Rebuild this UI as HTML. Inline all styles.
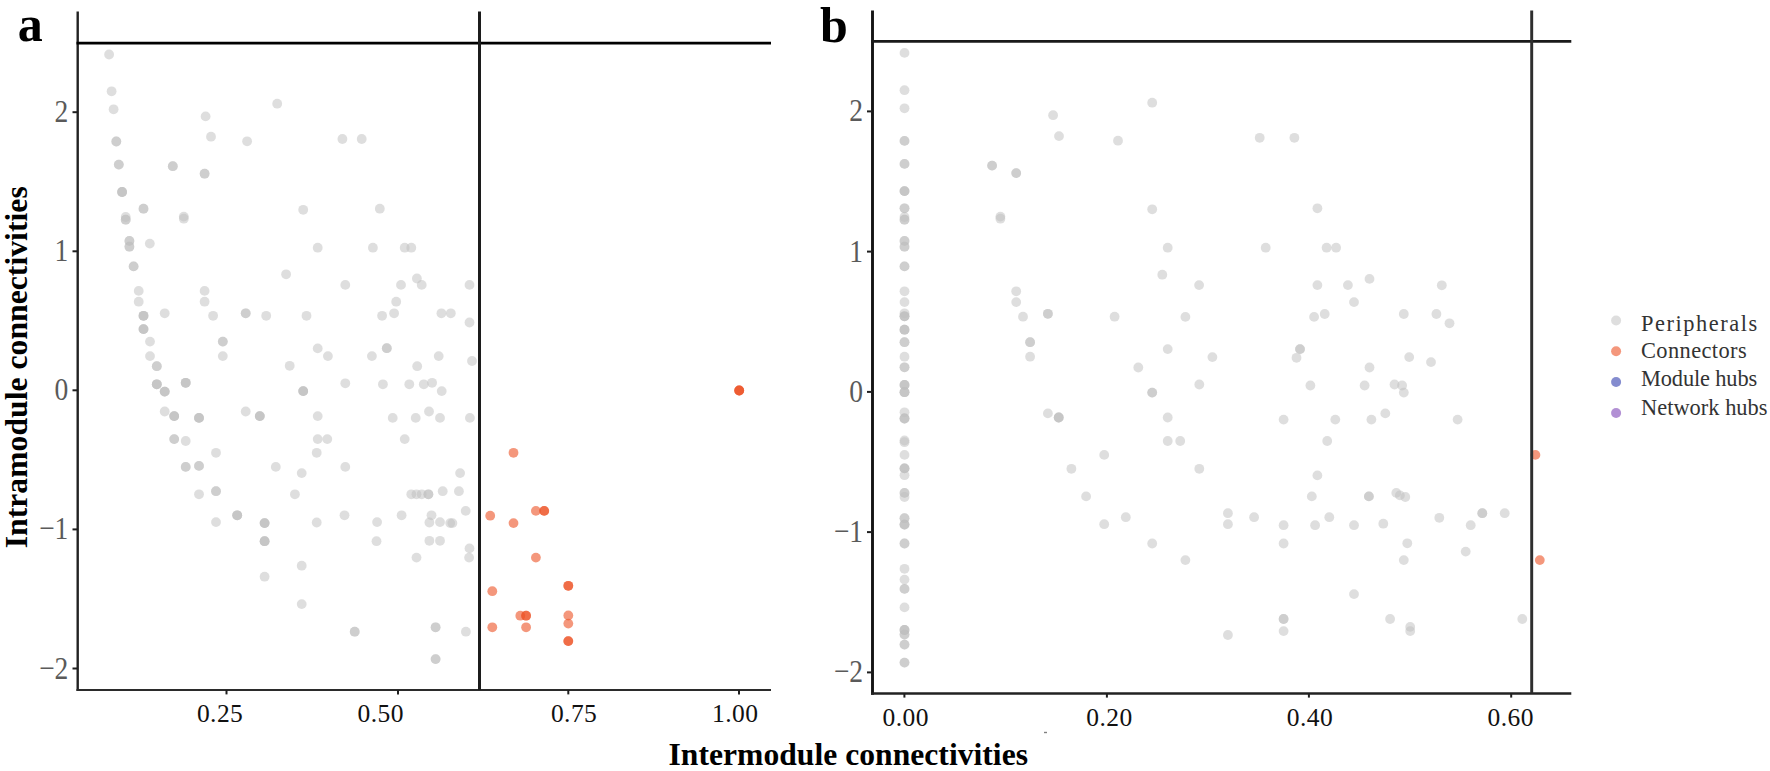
<!DOCTYPE html>
<html><head><meta charset="utf-8"><title>Zi-Pi plot</title>
<style>
html,body{margin:0;padding:0;background:#fff;}
svg{display:block}
.ax{stroke:#1f1f1f;stroke-width:2.3;fill:none;stroke-linecap:butt}
.tk{stroke:#1f1f1f;stroke-width:2;fill:none}
.xt{font-family:"Liberation Serif",serif;font-size:25.5px;fill:#111;text-anchor:middle;letter-spacing:.45px}
.yt{font-family:"Liberation Serif",serif;font-size:32.4px;fill:#5a5a5a;text-anchor:end}
.ttl{font-family:"Liberation Serif",serif;font-weight:bold;font-size:31.6px;fill:#000}
.tag{font-family:"Liberation Serif",serif;font-weight:bold;font-size:50px;fill:#000}
.lg{font-family:"Liberation Serif",serif;font-size:22.4px;fill:#333}
.g{fill:#bebebe;fill-opacity:.5}
.r{fill:#ec5225;fill-opacity:.6}
</style></head><body>
<svg width="1770" height="771" viewBox="0 0 1770 771">
<rect width="1770" height="771" fill="#ffffff"/>

<g id="pa"><circle class="g" cx="109.1" cy="54.5" r="4.9"/>
<circle class="g" cx="111.6" cy="91.3" r="4.9"/>
<circle class="g" cx="113.6" cy="109.3" r="4.9"/>
<circle class="g" cx="116.3" cy="141.5" r="4.9"/>
<circle class="g" cx="116.3" cy="141.5" r="4.9"/>
<circle class="g" cx="118.8" cy="164.6" r="4.9"/>
<circle class="g" cx="118.8" cy="164.6" r="4.9"/>
<circle class="g" cx="122.1" cy="192.0" r="4.9"/>
<circle class="g" cx="122.1" cy="192.0" r="4.9"/>
<circle class="g" cx="122.1" cy="192.0" r="4.9"/>
<circle class="g" cx="172.8" cy="166.2" r="4.9"/>
<circle class="g" cx="172.8" cy="166.2" r="4.9"/>
<circle class="g" cx="204.6" cy="173.7" r="4.9"/>
<circle class="g" cx="204.6" cy="173.7" r="4.9"/>
<circle class="g" cx="205.6" cy="116.4" r="4.9"/>
<circle class="g" cx="211.0" cy="136.7" r="4.9"/>
<circle class="g" cx="247.1" cy="141.3" r="4.9"/>
<circle class="g" cx="277.2" cy="103.7" r="4.9"/>
<circle class="g" cx="342.4" cy="139.0" r="4.9"/>
<circle class="g" cx="361.7" cy="139.0" r="4.9"/>
<circle class="g" cx="143.5" cy="208.7" r="4.9"/>
<circle class="g" cx="143.5" cy="208.7" r="4.9"/>
<circle class="g" cx="125.7" cy="217.0" r="4.9"/>
<circle class="g" cx="125.7" cy="219.7" r="4.9"/>
<circle class="g" cx="125.7" cy="219.7" r="4.9"/>
<circle class="g" cx="183.8" cy="216.6" r="4.9"/>
<circle class="g" cx="183.8" cy="218.7" r="4.9"/>
<circle class="g" cx="303.2" cy="209.8" r="4.9"/>
<circle class="g" cx="129.4" cy="240.9" r="4.9"/>
<circle class="g" cx="129.4" cy="240.9" r="4.9"/>
<circle class="g" cx="129.4" cy="246.7" r="4.9"/>
<circle class="g" cx="129.4" cy="246.7" r="4.9"/>
<circle class="g" cx="149.8" cy="243.6" r="4.9"/>
<circle class="g" cx="317.7" cy="247.7" r="4.9"/>
<circle class="g" cx="133.6" cy="266.4" r="4.9"/>
<circle class="g" cx="133.6" cy="266.4" r="4.9"/>
<circle class="g" cx="286.1" cy="274.3" r="4.9"/>
<circle class="g" cx="138.7" cy="290.9" r="4.9"/>
<circle class="g" cx="138.7" cy="301.7" r="4.9"/>
<circle class="g" cx="204.6" cy="290.9" r="4.9"/>
<circle class="g" cx="204.6" cy="301.7" r="4.9"/>
<circle class="g" cx="143.5" cy="315.8" r="4.9"/>
<circle class="g" cx="143.5" cy="315.8" r="4.9"/>
<circle class="g" cx="143.5" cy="315.8" r="4.9"/>
<circle class="g" cx="164.7" cy="313.3" r="4.9"/>
<circle class="g" cx="213.1" cy="315.8" r="4.9"/>
<circle class="g" cx="245.7" cy="313.3" r="4.9"/>
<circle class="g" cx="245.7" cy="313.3" r="4.9"/>
<circle class="g" cx="266.2" cy="315.8" r="4.9"/>
<circle class="g" cx="306.5" cy="315.8" r="4.9"/>
<circle class="g" cx="143.5" cy="329.1" r="4.9"/>
<circle class="g" cx="143.5" cy="329.1" r="4.9"/>
<circle class="g" cx="143.5" cy="329.1" r="4.9"/>
<circle class="g" cx="150.0" cy="341.6" r="4.9"/>
<circle class="g" cx="222.8" cy="341.6" r="4.9"/>
<circle class="g" cx="222.8" cy="341.6" r="4.9"/>
<circle class="g" cx="150.0" cy="356.1" r="4.9"/>
<circle class="g" cx="222.8" cy="356.1" r="4.9"/>
<circle class="g" cx="317.7" cy="348.4" r="4.9"/>
<circle class="g" cx="379.8" cy="208.7" r="4.9"/>
<circle class="g" cx="372.9" cy="247.7" r="4.9"/>
<circle class="g" cx="404.7" cy="247.7" r="4.9"/>
<circle class="g" cx="411.3" cy="247.7" r="4.9"/>
<circle class="g" cx="345.3" cy="284.9" r="4.9"/>
<circle class="g" cx="401.0" cy="284.9" r="4.9"/>
<circle class="g" cx="416.9" cy="278.5" r="4.9"/>
<circle class="g" cx="421.7" cy="284.9" r="4.9"/>
<circle class="g" cx="469.5" cy="284.9" r="4.9"/>
<circle class="g" cx="396.2" cy="301.7" r="4.9"/>
<circle class="g" cx="394.1" cy="313.3" r="4.9"/>
<circle class="g" cx="382.1" cy="315.8" r="4.9"/>
<circle class="g" cx="441.4" cy="313.3" r="4.9"/>
<circle class="g" cx="450.8" cy="313.3" r="4.9"/>
<circle class="g" cx="469.5" cy="322.5" r="4.9"/>
<circle class="g" cx="386.8" cy="348.2" r="4.9"/>
<circle class="g" cx="386.8" cy="348.2" r="4.9"/>
<circle class="g" cx="327.9" cy="356.1" r="4.9"/>
<circle class="g" cx="371.9" cy="356.1" r="4.9"/>
<circle class="g" cx="438.7" cy="356.1" r="4.9"/>
<circle class="g" cx="472.0" cy="361.0" r="4.9"/>
<circle class="g" cx="156.8" cy="366.2" r="4.9"/>
<circle class="g" cx="156.8" cy="366.2" r="4.9"/>
<circle class="g" cx="289.7" cy="365.8" r="4.9"/>
<circle class="g" cx="156.8" cy="384.3" r="4.9"/>
<circle class="g" cx="156.8" cy="384.3" r="4.9"/>
<circle class="g" cx="156.8" cy="384.3" r="4.9"/>
<circle class="g" cx="164.7" cy="391.6" r="4.9"/>
<circle class="g" cx="164.7" cy="391.6" r="4.9"/>
<circle class="g" cx="164.7" cy="391.6" r="4.9"/>
<circle class="g" cx="185.7" cy="382.8" r="4.9"/>
<circle class="g" cx="185.7" cy="382.8" r="4.9"/>
<circle class="g" cx="185.7" cy="382.8" r="4.9"/>
<circle class="g" cx="303.2" cy="391.1" r="4.9"/>
<circle class="g" cx="303.2" cy="391.1" r="4.9"/>
<circle class="g" cx="303.2" cy="391.1" r="4.9"/>
<circle class="g" cx="164.7" cy="411.5" r="4.9"/>
<circle class="g" cx="174.2" cy="416.1" r="4.9"/>
<circle class="g" cx="174.2" cy="416.1" r="4.9"/>
<circle class="g" cx="174.2" cy="416.1" r="4.9"/>
<circle class="g" cx="199.0" cy="417.9" r="4.9"/>
<circle class="g" cx="199.0" cy="417.9" r="4.9"/>
<circle class="g" cx="199.0" cy="417.9" r="4.9"/>
<circle class="g" cx="245.7" cy="411.5" r="4.9"/>
<circle class="g" cx="259.8" cy="416.1" r="4.9"/>
<circle class="g" cx="259.8" cy="416.1" r="4.9"/>
<circle class="g" cx="259.8" cy="416.1" r="4.9"/>
<circle class="g" cx="317.7" cy="416.1" r="4.9"/>
<circle class="g" cx="174.2" cy="439.1" r="4.9"/>
<circle class="g" cx="174.2" cy="439.1" r="4.9"/>
<circle class="g" cx="185.7" cy="441.0" r="4.9"/>
<circle class="g" cx="317.7" cy="439.1" r="4.9"/>
<circle class="g" cx="216.0" cy="452.8" r="4.9"/>
<circle class="g" cx="316.7" cy="452.8" r="4.9"/>
<circle class="g" cx="185.7" cy="466.9" r="4.9"/>
<circle class="g" cx="185.7" cy="466.9" r="4.9"/>
<circle class="g" cx="199.0" cy="465.9" r="4.9"/>
<circle class="g" cx="199.0" cy="465.9" r="4.9"/>
<circle class="g" cx="275.8" cy="466.9" r="4.9"/>
<circle class="g" cx="301.7" cy="473.1" r="4.9"/>
<circle class="g" cx="199.0" cy="494.3" r="4.9"/>
<circle class="g" cx="216.0" cy="491.2" r="4.9"/>
<circle class="g" cx="216.0" cy="491.2" r="4.9"/>
<circle class="g" cx="294.9" cy="494.3" r="4.9"/>
<circle class="g" cx="237.2" cy="515.3" r="4.9"/>
<circle class="g" cx="237.2" cy="515.3" r="4.9"/>
<circle class="g" cx="237.2" cy="515.3" r="4.9"/>
<circle class="g" cx="417.2" cy="366.2" r="4.9"/>
<circle class="g" cx="345.3" cy="383.3" r="4.9"/>
<circle class="g" cx="382.9" cy="384.3" r="4.9"/>
<circle class="g" cx="409.3" cy="384.3" r="4.9"/>
<circle class="g" cx="423.8" cy="384.3" r="4.9"/>
<circle class="g" cx="432.1" cy="382.8" r="4.9"/>
<circle class="g" cx="441.7" cy="391.1" r="4.9"/>
<circle class="g" cx="392.7" cy="417.9" r="4.9"/>
<circle class="g" cx="415.7" cy="417.9" r="4.9"/>
<circle class="g" cx="429.0" cy="411.5" r="4.9"/>
<circle class="g" cx="440.0" cy="417.9" r="4.9"/>
<circle class="g" cx="469.9" cy="417.9" r="4.9"/>
<circle class="g" cx="327.3" cy="439.1" r="4.9"/>
<circle class="g" cx="404.7" cy="439.1" r="4.9"/>
<circle class="g" cx="345.3" cy="466.9" r="4.9"/>
<circle class="g" cx="460.1" cy="473.1" r="4.9"/>
<circle class="g" cx="411.3" cy="494.3" r="4.9"/>
<circle class="g" cx="416.5" cy="494.3" r="4.9"/>
<circle class="g" cx="421.7" cy="494.3" r="4.9"/>
<circle class="g" cx="428.4" cy="494.3" r="4.9"/>
<circle class="g" cx="428.4" cy="494.3" r="4.9"/>
<circle class="g" cx="442.7" cy="491.2" r="4.9"/>
<circle class="g" cx="458.9" cy="491.2" r="4.9"/>
<circle class="g" cx="465.7" cy="510.9" r="4.9"/>
<circle class="g" cx="344.5" cy="515.3" r="4.9"/>
<circle class="g" cx="401.6" cy="515.3" r="4.9"/>
<circle class="g" cx="431.5" cy="515.3" r="4.9"/>
<circle class="g" cx="216.0" cy="522.1" r="4.9"/>
<circle class="g" cx="264.6" cy="523.1" r="4.9"/>
<circle class="g" cx="264.6" cy="523.1" r="4.9"/>
<circle class="g" cx="264.6" cy="523.1" r="4.9"/>
<circle class="g" cx="316.7" cy="522.5" r="4.9"/>
<circle class="g" cx="264.6" cy="541.2" r="4.9"/>
<circle class="g" cx="264.6" cy="541.2" r="4.9"/>
<circle class="g" cx="264.6" cy="541.2" r="4.9"/>
<circle class="g" cx="301.7" cy="565.7" r="4.9"/>
<circle class="g" cx="264.6" cy="576.7" r="4.9"/>
<circle class="g" cx="301.7" cy="604.1" r="4.9"/>
<circle class="g" cx="377.1" cy="522.1" r="4.9"/>
<circle class="g" cx="429.4" cy="522.5" r="4.9"/>
<circle class="g" cx="440.0" cy="522.1" r="4.9"/>
<circle class="g" cx="450.2" cy="523.1" r="4.9"/>
<circle class="g" cx="452.4" cy="523.1" r="4.9"/>
<circle class="g" cx="376.5" cy="541.2" r="4.9"/>
<circle class="g" cx="429.4" cy="540.8" r="4.9"/>
<circle class="g" cx="440.0" cy="540.8" r="4.9"/>
<circle class="g" cx="469.5" cy="548.4" r="4.9"/>
<circle class="g" cx="469.1" cy="557.6" r="4.9"/>
<circle class="g" cx="416.5" cy="557.6" r="4.9"/>
<circle class="g" cx="354.7" cy="631.7" r="4.9"/>
<circle class="g" cx="354.7" cy="631.7" r="4.9"/>
<circle class="g" cx="435.6" cy="627.3" r="4.9"/>
<circle class="g" cx="435.6" cy="627.3" r="4.9"/>
<circle class="g" cx="465.9" cy="631.7" r="4.9"/>
<circle class="g" cx="435.6" cy="659.1" r="4.9"/>
<circle class="g" cx="435.6" cy="659.1" r="4.9"/>
<circle class="r" cx="513.5" cy="452.8" r="4.9"/>
<circle class="r" cx="490.2" cy="515.7" r="4.9"/>
<circle class="r" cx="513.5" cy="523.1" r="4.9"/>
<circle class="r" cx="535.9" cy="510.9" r="4.9"/>
<circle class="r" cx="544.2" cy="510.9" r="4.9"/>
<circle class="r" cx="544.2" cy="510.9" r="4.9"/>
<circle class="r" cx="535.9" cy="557.6" r="4.9"/>
<circle class="r" cx="492.3" cy="591.2" r="4.9"/>
<circle class="r" cx="568.3" cy="585.8" r="4.9"/>
<circle class="r" cx="568.3" cy="585.8" r="4.9"/>
<circle class="r" cx="520.3" cy="615.7" r="4.9"/>
<circle class="r" cx="526.1" cy="615.7" r="4.9"/>
<circle class="r" cx="526.1" cy="615.7" r="4.9"/>
<circle class="r" cx="568.3" cy="615.5" r="4.9"/>
<circle class="r" cx="568.3" cy="623.6" r="4.9"/>
<circle class="r" cx="492.3" cy="627.3" r="4.9"/>
<circle class="r" cx="526.1" cy="627.3" r="4.9"/>
<circle class="r" cx="568.3" cy="641.1" r="4.9"/>
<circle class="r" cx="568.3" cy="641.1" r="4.9"/>
<circle class="r" cx="739.2" cy="390.5" r="4.9"/>
<circle class="r" cx="739.2" cy="390.5" r="4.9"/>
<circle class="r" cx="739.2" cy="390.5" r="4.9"/></g>
<g id="pb"><circle class="g" cx="904.5" cy="52.9" r="4.9"/>
<circle class="g" cx="904.5" cy="90.2" r="4.9"/>
<circle class="g" cx="904.5" cy="108.3" r="4.9"/>
<circle class="g" cx="904.5" cy="140.9" r="4.9"/>
<circle class="g" cx="904.5" cy="140.9" r="4.9"/>
<circle class="g" cx="904.5" cy="163.9" r="4.9"/>
<circle class="g" cx="904.5" cy="163.9" r="4.9"/>
<circle class="g" cx="904.5" cy="191.1" r="4.9"/>
<circle class="g" cx="904.5" cy="191.1" r="4.9"/>
<circle class="g" cx="904.5" cy="191.1" r="4.9"/>
<circle class="g" cx="904.5" cy="208.3" r="4.9"/>
<circle class="g" cx="904.5" cy="208.3" r="4.9"/>
<circle class="g" cx="904.5" cy="217.0" r="4.9"/>
<circle class="g" cx="904.5" cy="219.7" r="4.9"/>
<circle class="g" cx="904.5" cy="219.7" r="4.9"/>
<circle class="g" cx="904.5" cy="240.9" r="4.9"/>
<circle class="g" cx="904.5" cy="240.9" r="4.9"/>
<circle class="g" cx="904.5" cy="246.7" r="4.9"/>
<circle class="g" cx="904.5" cy="246.7" r="4.9"/>
<circle class="g" cx="904.5" cy="266.4" r="4.9"/>
<circle class="g" cx="904.5" cy="266.4" r="4.9"/>
<circle class="g" cx="904.5" cy="291.3" r="4.9"/>
<circle class="g" cx="904.5" cy="302.1" r="4.9"/>
<circle class="g" cx="904.5" cy="313.3" r="4.9"/>
<circle class="g" cx="904.5" cy="316.3" r="4.9"/>
<circle class="g" cx="904.5" cy="316.3" r="4.9"/>
<circle class="g" cx="904.5" cy="316.3" r="4.9"/>
<circle class="g" cx="904.5" cy="329.7" r="4.9"/>
<circle class="g" cx="904.5" cy="329.7" r="4.9"/>
<circle class="g" cx="904.5" cy="329.7" r="4.9"/>
<circle class="g" cx="904.5" cy="342.2" r="4.9"/>
<circle class="g" cx="904.5" cy="342.2" r="4.9"/>
<circle class="g" cx="904.5" cy="356.7" r="4.9"/>
<circle class="g" cx="904.5" cy="367.3" r="4.9"/>
<circle class="g" cx="904.5" cy="367.3" r="4.9"/>
<circle class="g" cx="904.5" cy="384.9" r="4.9"/>
<circle class="g" cx="904.5" cy="384.9" r="4.9"/>
<circle class="g" cx="904.5" cy="384.9" r="4.9"/>
<circle class="g" cx="904.5" cy="392.2" r="4.9"/>
<circle class="g" cx="904.5" cy="392.2" r="4.9"/>
<circle class="g" cx="904.5" cy="392.2" r="4.9"/>
<circle class="g" cx="904.5" cy="412.3" r="4.9"/>
<circle class="g" cx="904.5" cy="418.5" r="4.9"/>
<circle class="g" cx="904.5" cy="418.5" r="4.9"/>
<circle class="g" cx="904.5" cy="418.5" r="4.9"/>
<circle class="g" cx="904.5" cy="440.5" r="4.9"/>
<circle class="g" cx="904.5" cy="442.2" r="4.9"/>
<circle class="g" cx="904.5" cy="454.9" r="4.9"/>
<circle class="g" cx="904.5" cy="468.4" r="4.9"/>
<circle class="g" cx="904.5" cy="468.4" r="4.9"/>
<circle class="g" cx="904.5" cy="468.4" r="4.9"/>
<circle class="g" cx="904.5" cy="475.2" r="4.9"/>
<circle class="g" cx="904.5" cy="492.9" r="4.9"/>
<circle class="g" cx="904.5" cy="492.9" r="4.9"/>
<circle class="g" cx="904.5" cy="497.0" r="4.9"/>
<circle class="g" cx="904.5" cy="518.2" r="4.9"/>
<circle class="g" cx="904.5" cy="518.2" r="4.9"/>
<circle class="g" cx="904.5" cy="524.6" r="4.9"/>
<circle class="g" cx="904.5" cy="524.6" r="4.9"/>
<circle class="g" cx="904.5" cy="524.6" r="4.9"/>
<circle class="g" cx="904.5" cy="543.5" r="4.9"/>
<circle class="g" cx="904.5" cy="543.5" r="4.9"/>
<circle class="g" cx="904.5" cy="568.8" r="4.9"/>
<circle class="g" cx="904.5" cy="579.6" r="4.9"/>
<circle class="g" cx="904.5" cy="588.9" r="4.9"/>
<circle class="g" cx="904.5" cy="588.9" r="4.9"/>
<circle class="g" cx="904.5" cy="607.4" r="4.9"/>
<circle class="g" cx="904.5" cy="630.0" r="4.9"/>
<circle class="g" cx="904.5" cy="630.0" r="4.9"/>
<circle class="g" cx="904.5" cy="630.0" r="4.9"/>
<circle class="g" cx="904.5" cy="634.6" r="4.9"/>
<circle class="g" cx="904.5" cy="634.6" r="4.9"/>
<circle class="g" cx="904.5" cy="644.6" r="4.9"/>
<circle class="g" cx="904.5" cy="644.6" r="4.9"/>
<circle class="g" cx="904.5" cy="662.6" r="4.9"/>
<circle class="g" cx="904.5" cy="662.6" r="4.9"/>
<circle class="g" cx="992.1" cy="165.6" r="4.9"/>
<circle class="g" cx="992.1" cy="165.6" r="4.9"/>
<circle class="g" cx="1016.2" cy="173.1" r="4.9"/>
<circle class="g" cx="1016.2" cy="173.1" r="4.9"/>
<circle class="g" cx="1053.1" cy="115.2" r="4.9"/>
<circle class="g" cx="1059.0" cy="136.1" r="4.9"/>
<circle class="g" cx="1118.0" cy="140.7" r="4.9"/>
<circle class="g" cx="1152.2" cy="102.7" r="4.9"/>
<circle class="g" cx="1259.7" cy="137.8" r="4.9"/>
<circle class="g" cx="1294.4" cy="137.8" r="4.9"/>
<circle class="g" cx="1000.4" cy="216.6" r="4.9"/>
<circle class="g" cx="1000.4" cy="218.7" r="4.9"/>
<circle class="g" cx="1016.2" cy="291.3" r="4.9"/>
<circle class="g" cx="1016.2" cy="302.1" r="4.9"/>
<circle class="g" cx="1023.0" cy="316.7" r="4.9"/>
<circle class="g" cx="1047.9" cy="313.8" r="4.9"/>
<circle class="g" cx="1047.9" cy="313.8" r="4.9"/>
<circle class="g" cx="1114.6" cy="316.7" r="4.9"/>
<circle class="g" cx="1030.1" cy="342.2" r="4.9"/>
<circle class="g" cx="1030.1" cy="342.2" r="4.9"/>
<circle class="g" cx="1030.1" cy="356.7" r="4.9"/>
<circle class="g" cx="1152.2" cy="209.3" r="4.9"/>
<circle class="g" cx="1317.4" cy="208.3" r="4.9"/>
<circle class="g" cx="1167.7" cy="247.7" r="4.9"/>
<circle class="g" cx="1265.7" cy="247.7" r="4.9"/>
<circle class="g" cx="1326.6" cy="247.7" r="4.9"/>
<circle class="g" cx="1336.1" cy="247.7" r="4.9"/>
<circle class="g" cx="1162.3" cy="274.7" r="4.9"/>
<circle class="g" cx="1199.1" cy="285.1" r="4.9"/>
<circle class="g" cx="1317.4" cy="285.1" r="4.9"/>
<circle class="g" cx="1347.9" cy="285.1" r="4.9"/>
<circle class="g" cx="1354.0" cy="302.1" r="4.9"/>
<circle class="g" cx="1185.4" cy="316.9" r="4.9"/>
<circle class="g" cx="1314.1" cy="316.9" r="4.9"/>
<circle class="g" cx="1324.7" cy="314.0" r="4.9"/>
<circle class="g" cx="1167.7" cy="349.1" r="4.9"/>
<circle class="g" cx="1300.0" cy="349.1" r="4.9"/>
<circle class="g" cx="1300.0" cy="349.1" r="4.9"/>
<circle class="g" cx="1212.4" cy="357.1" r="4.9"/>
<circle class="g" cx="1296.5" cy="357.8" r="4.9"/>
<circle class="g" cx="1369.5" cy="278.9" r="4.9"/>
<circle class="g" cx="1441.8" cy="285.3" r="4.9"/>
<circle class="g" cx="1403.8" cy="314.0" r="4.9"/>
<circle class="g" cx="1436.4" cy="314.0" r="4.9"/>
<circle class="g" cx="1449.5" cy="323.3" r="4.9"/>
<circle class="g" cx="1409.2" cy="357.1" r="4.9"/>
<circle class="g" cx="1431.0" cy="362.1" r="4.9"/>
<circle class="g" cx="1047.9" cy="413.4" r="4.9"/>
<circle class="g" cx="1058.7" cy="417.5" r="4.9"/>
<circle class="g" cx="1058.7" cy="417.5" r="4.9"/>
<circle class="g" cx="1058.7" cy="417.5" r="4.9"/>
<circle class="g" cx="1104.2" cy="454.9" r="4.9"/>
<circle class="g" cx="1071.4" cy="468.8" r="4.9"/>
<circle class="g" cx="1086.1" cy="496.4" r="4.9"/>
<circle class="g" cx="1138.3" cy="367.5" r="4.9"/>
<circle class="g" cx="1152.2" cy="392.6" r="4.9"/>
<circle class="g" cx="1152.2" cy="392.6" r="4.9"/>
<circle class="g" cx="1199.3" cy="384.5" r="4.9"/>
<circle class="g" cx="1310.4" cy="385.5" r="4.9"/>
<circle class="g" cx="1167.7" cy="417.5" r="4.9"/>
<circle class="g" cx="1283.6" cy="419.6" r="4.9"/>
<circle class="g" cx="1335.3" cy="419.6" r="4.9"/>
<circle class="g" cx="1167.7" cy="441.0" r="4.9"/>
<circle class="g" cx="1180.2" cy="441.0" r="4.9"/>
<circle class="g" cx="1327.2" cy="441.0" r="4.9"/>
<circle class="g" cx="1199.3" cy="468.8" r="4.9"/>
<circle class="g" cx="1317.4" cy="475.4" r="4.9"/>
<circle class="g" cx="1311.8" cy="496.4" r="4.9"/>
<circle class="g" cx="1227.9" cy="513.2" r="4.9"/>
<circle class="g" cx="1125.8" cy="517.2" r="4.9"/>
<circle class="g" cx="1254.1" cy="517.2" r="4.9"/>
<circle class="g" cx="1329.3" cy="517.2" r="4.9"/>
<circle class="g" cx="1369.5" cy="367.5" r="4.9"/>
<circle class="g" cx="1364.6" cy="385.5" r="4.9"/>
<circle class="g" cx="1394.5" cy="384.5" r="4.9"/>
<circle class="g" cx="1402.1" cy="385.5" r="4.9"/>
<circle class="g" cx="1403.8" cy="392.6" r="4.9"/>
<circle class="g" cx="1385.3" cy="413.4" r="4.9"/>
<circle class="g" cx="1371.4" cy="419.6" r="4.9"/>
<circle class="g" cx="1457.6" cy="419.6" r="4.9"/>
<circle class="g" cx="1368.9" cy="496.4" r="4.9"/>
<circle class="g" cx="1368.9" cy="496.4" r="4.9"/>
<circle class="g" cx="1396.3" cy="492.9" r="4.9"/>
<circle class="g" cx="1399.9" cy="495.4" r="4.9"/>
<circle class="g" cx="1405.3" cy="497.0" r="4.9"/>
<circle class="g" cx="1482.3" cy="513.2" r="4.9"/>
<circle class="g" cx="1482.3" cy="513.2" r="4.9"/>
<circle class="g" cx="1504.7" cy="513.2" r="4.9"/>
<circle class="g" cx="1439.3" cy="517.8" r="4.9"/>
<circle class="g" cx="1104.2" cy="524.2" r="4.9"/>
<circle class="g" cx="1227.9" cy="524.2" r="4.9"/>
<circle class="g" cx="1283.6" cy="525.2" r="4.9"/>
<circle class="g" cx="1315.1" cy="525.2" r="4.9"/>
<circle class="g" cx="1354.0" cy="525.2" r="4.9"/>
<circle class="g" cx="1152.2" cy="543.5" r="4.9"/>
<circle class="g" cx="1283.6" cy="543.5" r="4.9"/>
<circle class="g" cx="1185.4" cy="560.1" r="4.9"/>
<circle class="g" cx="1354.0" cy="594.1" r="4.9"/>
<circle class="g" cx="1283.6" cy="619.0" r="4.9"/>
<circle class="g" cx="1283.6" cy="619.0" r="4.9"/>
<circle class="g" cx="1283.6" cy="631.1" r="4.9"/>
<circle class="g" cx="1227.9" cy="635.0" r="4.9"/>
<circle class="g" cx="1383.3" cy="523.7" r="4.9"/>
<circle class="g" cx="1470.7" cy="525.2" r="4.9"/>
<circle class="g" cx="1407.3" cy="543.3" r="4.9"/>
<circle class="g" cx="1465.7" cy="551.6" r="4.9"/>
<circle class="g" cx="1403.8" cy="560.1" r="4.9"/>
<circle class="g" cx="1390.1" cy="619.0" r="4.9"/>
<circle class="g" cx="1410.2" cy="626.9" r="4.9"/>
<circle class="g" cx="1410.2" cy="631.1" r="4.9"/>
<circle class="g" cx="1522.3" cy="619.0" r="4.9"/>
<circle class="r" cx="1535.4" cy="454.9" r="4.9"/>
<circle class="r" cx="1539.8" cy="560.1" r="4.9"/></g>

<path d="M77.7 11.5V691.1" stroke="#222" stroke-width="2.4" fill="none"/>
<path d="M76.5 690H771" stroke="#2b2b2b" stroke-width="2.2" fill="none"/>
<path d="M76.5 43.1H771" stroke="#000" stroke-width="2.7" fill="none"/>
<path d="M479.5 11.5V690" stroke="#1c1c1c" stroke-width="3" fill="none"/>
<path d="M872.5 10.5V694.8" stroke="#141414" stroke-width="2.9" fill="none"/>
<path d="M871 693.5H1571.3" stroke="#222" stroke-width="2.6" fill="none"/>
<path d="M871 41.4H1571.3" stroke="#1a1a1a" stroke-width="2.6" fill="none"/>
<path d="M1531.7 10.5V693.5" stroke="#2e2e2e" stroke-width="2.95" fill="none"/>

<path class="tk" d="M72.5 112.2H78"/>
<text class="yt" transform="translate(68.2 122.2) scale(.85 1)">2</text>
<path class="tk" d="M72.5 251.3H78"/>
<text class="yt" transform="translate(68.2 261.3) scale(.85 1)">1</text>
<path class="tk" d="M72.5 390.3H78"/>
<text class="yt" transform="translate(68.2 400.3) scale(.85 1)">0</text>
<path class="tk" d="M72.5 529.4H78"/>
<text class="yt" transform="translate(68.2 539.4) scale(.85 1)">−1</text>
<path class="tk" d="M72.5 668.5H78"/>
<text class="yt" transform="translate(68.2 678.5) scale(.85 1)">−2</text>
<path class="tk" d="M867 111.4H872.5"/>
<text class="yt" transform="translate(863 121.4) scale(.85 1)">2</text>
<path class="tk" d="M867 251.6H872.5"/>
<text class="yt" transform="translate(863 261.6) scale(.85 1)">1</text>
<path class="tk" d="M867 391.9H872.5"/>
<text class="yt" transform="translate(863 401.9) scale(.85 1)">0</text>
<path class="tk" d="M867 532.1H872.5"/>
<text class="yt" transform="translate(863 542.1) scale(.85 1)">−1</text>
<path class="tk" d="M867 672.4H872.5"/>
<text class="yt" transform="translate(863 682.4) scale(.85 1)">−2</text>
<path class="tk" d="M226.5 690V694.4"/>
<text class="xt" x="220.1" y="721.6">0.25</text>
<path class="tk" d="M398.0 690V694.4"/>
<text class="xt" x="380.8" y="721.6">0.50</text>
<path class="tk" d="M568.3 690V694.4"/>
<text class="xt" x="574.1" y="721.6">0.75</text>
<path class="tk" d="M739 690V694.4"/>
<text class="xt" x="735.2" y="721.6">1.00</text>
<path class="tk" d="M904.4 693.5V697.6"/>
<text class="xt" x="905.7" y="725.6">0.00</text>
<path class="tk" d="M1106.9 693.5V697.6"/>
<text class="xt" x="1109.5" y="725.6">0.20</text>
<path class="tk" d="M1308.9 693.5V697.6"/>
<text class="xt" x="1310.0" y="725.6">0.40</text>
<path class="tk" d="M1511.2 693.5V697.6"/>
<text class="xt" x="1510.8" y="725.6">0.60</text>

<text class="tag" x="17.8" y="40.9">a</text>
<text class="tag" x="820" y="41.8">b</text>
<text class="ttl" x="668.5" y="765" textLength="359.5" lengthAdjust="spacing">Intermodule connectivities</text>
<text class="ttl" transform="translate(26.8 548.3) rotate(-90)" textLength="362" lengthAdjust="spacing">Intramodule connectivities</text>

<circle cx="1616.1" cy="320.5" r="5" fill="#bebebe" fill-opacity="0.5"/>
<text class="lg" x="1641" y="330.9" textLength="116.2" lengthAdjust="spacing">Peripherals</text>
<circle cx="1616.1" cy="351.3" r="5" fill="#ec5225" fill-opacity="0.6"/>
<text class="lg" x="1641" y="358.1" textLength="105.7" lengthAdjust="spacing">Connectors</text>
<circle cx="1616.1" cy="382.0" r="5" fill="#4a55b8" fill-opacity="0.68"/>
<text class="lg" x="1641" y="386.3" textLength="116.2" lengthAdjust="spacing">Module hubs</text>
<circle cx="1616.1" cy="413.0" r="5" fill="#8e5cc0" fill-opacity="0.68"/>
<text class="lg" x="1641" y="414.5" textLength="126.5" lengthAdjust="spacing">Network hubs</text>
<rect x="1044" y="731.8" width="3" height="1.4" fill="#808080"/>
</svg></body></html>
